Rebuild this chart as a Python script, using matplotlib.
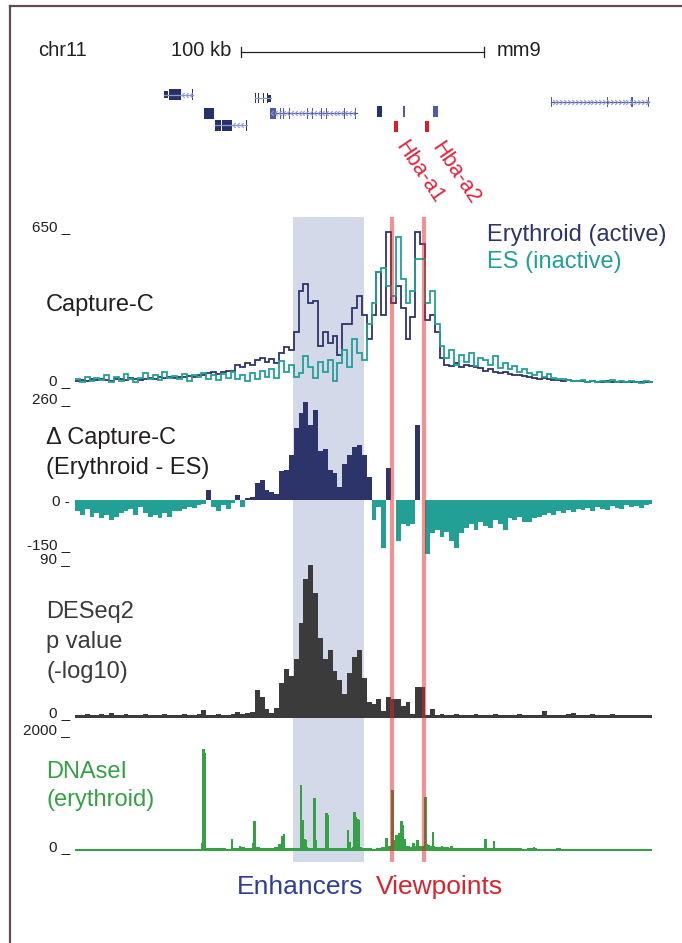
import numpy as np
import matplotlib
matplotlib.use('Agg')
import matplotlib.pyplot as plt
from matplotlib.path import Path
from matplotlib.patches import Rectangle
from matplotlib.lines import Line2D

plt.rcParams['font.family'] = ['Liberation Sans', 'DejaVu Sans']

W, H = 682, 943

# window on chr11 (kb from left edge), 2 kb bins
bin_kb = 2.0
view_kb = 237.4
enhancer_kb = (89.7, 119.0)
viewpoints_kb = [130.6, 143.4]

# Capture-C signal, erythroid (active) and ES (inactive)
erythroid = [22, 25, 20, 28, 24, 30, 26, 22, 28, 30, 25, 32, 28, 26,
             30, 34, 28, 36, 32, 38, 35, 40, 36, 42, 38, 45, 48,
             55, 60, 52, 58, 62, 65, 90,
             80, 95, 88, 110, 120, 100, 115, 95,
             140, 165, 150,
             230, 400, 430, 350, 360, 170, 230, 180, 210, 130, 260, 260, 330, 380,
             300, 200, 300, 480, 300,
             650, 350, 420, 330, 200, 290, 650, 600, 280, 300, 230, 120,
             90, 85, 95, 80, 90, 85, 80, 75,
             65, 70, 60, 55, 60, 50, 45, 48, 42, 40,
             35, 30, 32, 28, 25, 26, 22, 24, 20, 22, 20, 18, 20, 18, 17, 19,
             16, 18, 16, 17, 15, 18, 16, 15, 17]
es = [30, 15, 40, 20, 35, 25, 45, 18, 38, 22, 50, 28, 15, 35,
      55, 30, 48, 25, 60, 35, 42, 28, 52, 20, 45, 38, 55,
      30, 48, 25, 50, 35, 60, 28,
      45, 20, 55, 30, 65, 40, 70, 35,
      105, 60, 90,
      40, 55, 125, 80, 35, 100, 60, 110, 20, 95, 150, 80, 200, 140,
      110, 260, 350, 480, 500,
      420, 380, 630, 450, 350, 400, 535, 535, 350, 400, 260, 170,
      120, 150, 90, 130, 100, 140, 85, 120,
      110, 90, 125, 75, 95, 70, 85, 60, 70, 55,
      45, 60, 40, 50, 35, 28, 30, 25, 22, 20, 24, 18, 22, 15, 20, 18,
      25, 16, 20, 15, 22, 18, 14, 20, 17]

# difference track (Erythroid - ES)
delta = [-30, -40, -25, -45, -35, -50, -40, -55, -45,
         -35, -30, -25, -40, -20, -35, -45, -40, -50, -35, -45, -30,
         -30, -25, -20, -22, -15, -12, 25, -20, -30, -15, -25, -10,
         12, -20, 5, 8, 45, 52, 25, 20, 15,
         75, 78, 120, 190, 230, 260, 200, 240,
         130, 135, 80, 70, 35, 95, 120, 140, 145, 120,
         60, -55, -20, -130, 85, 0, -110, -65, -70, -65, 200, 0,
         -145, -90, -80, -100, -85, -110, -130,
         -90, -75, -65, -80, -60, -70, -75, -55, -65, -80,
         -50, -55, -45, -60, -60, -50, -45, -40, -35, -40,
         -30, -35, -28, -32, -25, -28, -22, -30, -20, -25,
         -28, -18, -22, -25, -15, -20, -18, -22, -14, -12]

# DESeq2 -log10 p value
deseq_p = [2, 2, 2.2, 2, 2, 2.3, 2, 3, 2, 2, 2.2, 2, 2, 2, 2.3, 2, 2, 2, 2.2,
           2, 2, 2, 2.3, 2, 2, 2.5,
           4.5, 2, 2, 2.2, 2, 2, 2.5,
           3.5, 2.5, 3, 3.5, 16, 12, 5, 3, 6,
           20, 28, 24, 34, 55, 80, 88, 72,
           46, 34, 39, 27, 22, 14, 26, 35, 39, 23,
           9, 8, 11, 4, 12, 11, 11, 7, 9, 2.5,
           18, 18, 2, 5,
           2, 2.5, 2, 2, 2.2, 2, 2, 2, 2.3, 2, 2, 2, 2.2, 2, 2, 2, 2, 2.3,
           2, 2, 2, 2, 4, 2, 2, 2, 2, 2.2, 3, 2, 2, 2, 2.3, 2, 2, 2, 2.2,
           2, 2, 2, 2, 2, 2, 2, 2]

# DNaseI erythroid: background per bin plus narrow peaks
dnase_bg = [30, 32, 30, 34, 32, 35, 30, 32, 35, 34, 30, 32, 36, 34, 32, 35,
            30, 32, 34, 32, 38, 35, 32, 34, 36, 40,
            50, 55, 52, 48, 45, 42, 50,
            55, 60, 50, 55, 65, 58, 52, 55, 60, 50, 48, 55,
            50, 55, 70, 50, 45, 48, 52, 50, 46, 48, 50, 55, 60, 70, 55,
            45, 40, 50, 70, 90, 100, 120, 110, 90, 70, 80, 90, 105,
            80, 65, 70, 60, 55, 50,
            50, 48, 45, 50, 48, 46, 44, 45, 50, 55, 48, 46, 45, 42, 48, 44,
            40, 42,
            40, 42, 45, 38, 40, 38, 36, 38, 40, 35, 38, 36, 34, 36, 35, 34,
            36, 32, 34, 32, 35, 34]
dnase_peak_kb = [52.4, 52.9, 53.4, 64.5, 67.8, 73.3, 73.8, 84.1, 85.4, 86.0,
                 93.1, 93.6, 94.6, 95.0, 98.5, 99.2, 103.5, 104.0, 112.4,
                 113.0, 115.0, 115.6, 116.2, 116.8, 128.2, 130.7, 131.3,
                 132.2, 133.3, 134.4, 135.0, 135.6, 139.2, 140.9, 144.2,
                 144.8, 147.2, 151.0, 154.9, 168.9, 172.3, 188.9]
dnase_peak_val = [140, 1730, 1660, 205, 90, 140, 507, 114, 250, 285,
                  1123, 524, 200, 180, 906, 180, 650, 610, 353,
                  150, 667, 581, 536, 524, 222, 1026, 180,
                  270, 300, 507, 440, 200, 137, 194, 923,
                  125, 320, 85, 85, 205, 165, 70]

navy = '#2d3469'
teal = '#22a096'
grey = '#3b3b3b'
green = '#36a047'
gene_navy = '#26306b'
gene_blue = '#4f5aab'
chevron = '#9198cc'

# genes: (y px, colour, strand, span start, span end, exons as (start, end, height px))
genes = [
    (94.5, gene_navy, '-', 36.6, 48.6,
     [(36.6, 38.4, 7), (38.7, 39.3, 11), (39.6, 43.6, 11), (48.1, 48.6, 11)]),
    (98.0, gene_navy, '-', 74.0, 80.7,
     [(74.0, 74.5, 10), (75.4, 75.9, 10), (77.4, 77.9, 10), (78.9, 79.4, 10),
      (79.4, 80.7, 7)]),
    (101.5, gene_blue, '+', 195.9, 236.2,
     [(195.7, 196.2, 10), (219.0, 219.5, 10), (228.9, 229.4, 10), (235.7, 236.2, 10)]),
    (113.3, gene_navy, None, 53.1, 57.2, [(53.1, 57.2, 11)]),
    (113.3, gene_blue, '-', 80.2, 116.0,
     [(80.2, 82.9, 11), (84.2, 84.6, 11), (85.5, 85.9, 11), (87.9, 88.3, 11),
      (89.9, 90.3, 11), (95.6, 96.0, 11), (97.7, 98.1, 11), (101.4, 101.8, 11),
      (103.1, 103.5, 11), (110.5, 110.9, 11), (115.0, 115.6, 11)]),
    (111.3, gene_navy, None, 124.3, 126.3, [(124.3, 126.3, 11)]),
    (111.3, gene_blue, None, 134.6, 135.8, [(134.8, 135.6, 11)]),
    (111.3, gene_blue, None, 147.3, 149.4, [(147.3, 149.4, 11)]),
    (125.3, gene_navy, '-', 57.6, 70.8,
     [(57.6, 60.1, 11), (60.5, 64.6, 11), (70.2, 70.8, 11)]),
    (126.5, '#d81f2b', None, 131.3, 133.0, [(131.3, 133.0, 11)]),
    (126.5, '#d81f2b', None, 144.0, 145.7, [(144.0, 145.7, 11)]),
]

n = len(erythroid)
edges = np.arange(n + 1) * bin_kb


def box(x0, y0, x1, y1):
    return [x0 / W, 1 - y1 / H, (x1 - x0) / W, (y1 - y0) / H]


def track(y0, y1, lo, hi, z=2):
    ax = fig.add_axes(box(75, y0, 652, y1))
    ax.set_xlim(0, view_kb)
    ax.set_ylim(lo, hi)
    ax.set_facecolor('none')
    ax.axis('off')
    ax.set_zorder(z)
    return ax


def label(x, y, s, size, color='#231f20', **kw):
    fig.text(x / W, 1 - y / H, s, fontsize=size, color=color, va='center', **kw)


fig = plt.figure(figsize=(W / 100, H / 100), dpi=100)

# frame
fig.add_artist(Line2D([10 / W, 10 / W], [0, 1 - 6 / H], color='#5e4e4e', lw=1.6))
fig.add_artist(Line2D([10 / W, 1], [1 - 6 / H, 1 - 6 / H], color='#5e4e4e', lw=1.6))

# header and scale bar
label(38, 50, 'chr11', 14.5)
label(231, 50, '100 kb', 14.5, ha='right')
label(497, 50, 'mm9', 14.5)
sb_y = 1 - 52 / H
fig.add_artist(Line2D([241 / W, 484 / W], [sb_y, sb_y], color='#222222', lw=0.9))
for xe in (241, 484):
    fig.add_artist(Line2D([xe / W, xe / W], [sb_y - 5 / H, sb_y + 5 / H],
                          color='#222222', lw=0.9))

# gene models
gx = fig.add_axes(box(75, 80, 652, 140))
gx.set_xlim(0, view_kb)
gx.set_ylim(140, 80)
gx.axis('off')
chev_left = Path([(0.5, 1), (-0.5, 0), (0.5, -1)], [Path.MOVETO, Path.LINETO, Path.LINETO])
chev_right = Path([(-0.5, 1), (0.5, 0), (-0.5, -1)], [Path.MOVETO, Path.LINETO, Path.LINETO])
for y, col, strand, g0, g1, exons in genes:
    if strand is not None:
        gx.plot([g0, g1], [y, y], color=col if col == gene_blue else chevron, lw=0.9)
        arrows = np.arange(g0 + 1.0, g1 - 0.6, 1.6)
        if col == gene_navy:
            arrows = np.arange(max(e[1] for e in exons[:-1]) + 0.8, exons[-1][0] - 0.4, 1.6)
        gx.plot(arrows, np.full(len(arrows), y), ls='none',
                marker=chev_left if strand == '-' else chev_right,
                ms=3.5, mec=chevron, mfc='none', mew=0.8)
    for e0, e1, h in exons:
        gx.add_patch(Rectangle((e0, y - h / 2), e1 - e0, h, color=col, lw=0))

label(419, 172, 'Hba-a1', 15.5, color='#e0243c', ha='center', rotation=-56)
label(456, 173, 'Hba-a2', 15.5, color='#e0243c', ha='center', rotation=-56)

# enhancer shading behind the tracks, viewpoints over them
bg = fig.add_axes(box(75, 217, 652, 862))
bg.set_xlim(0, view_kb)
bg.axis('off')
bg.set_zorder(0)
bg.axvspan(*enhancer_kb, color='#d4d9ea', lw=0)

fg = fig.add_axes(box(75, 217, 652, 862))
fg.set_xlim(0, view_kb)
fg.set_facecolor('none')
fg.axis('off')
fg.set_zorder(5)
for v in viewpoints_kb:
    fg.axvline(v, color=(0.88, 0.15, 0.15, 0.5), lw=3)

# Capture-C
ax1 = track(232, 386, 0, 650)
ax1.stairs(erythroid, edges, baseline=None, color=navy, lw=1.3, clip_on=False)
ax1.stairs(es, edges, baseline=None, color=teal, lw=1.3, clip_on=False)
label(46, 305, 'Capture-C', 17)
label(487, 235, 'Erythroid (active)', 17, color=navy)
label(487, 262, 'ES (inactive)', 17, color=teal)

# difference
ax2 = track(402, 556, -150, 260)
ax2.bar(edges[:-1], delta, width=bin_kb, align='edge', lw=0,
        color=[navy if d > 0 else teal for d in delta])
label(46, 438, '\u0394 Capture-C', 17)
label(46, 468, '(Erythroid - ES)', 17)

# DESeq2
ax3 = track(562, 718, 0, 90)
ax3.bar(edges[:-1], deseq_p, width=bin_kb, align='edge', lw=0, color=grey)
for i, s in enumerate(['DESeq2', 'p value', '(-log10)']):
    label(46, 612 + 30 * i, s, 17, color=grey)

# DNaseI
ax4 = track(733, 851, 0, 2000)
ax4.bar(edges[:-1], dnase_bg, width=bin_kb, align='edge', lw=0, color=green)
ax4.bar(dnase_peak_kb, dnase_peak_val, width=1.0, lw=0, color=green)
label(46, 772, 'DNAseI', 17, color=green)
label(46, 800, '(erythroid)', 17, color=green)

# axis range labels
for s, y in [('650 _', 227), ('0 _', 381), ('260 _', 399), ('0 -', 502),
             ('-150 _', 545), ('90 _', 559), ('0 _', 713), ('2000 _', 730),
             ('0 _', 847)]:
    label(70, y, s, 11, ha='right')

label(237, 887, 'Enhancers', 19, color='#2f3f98')
label(376, 887, 'Viewpoints', 19, color='#d7252f')

fig.savefig('out.png', dpi=100)
